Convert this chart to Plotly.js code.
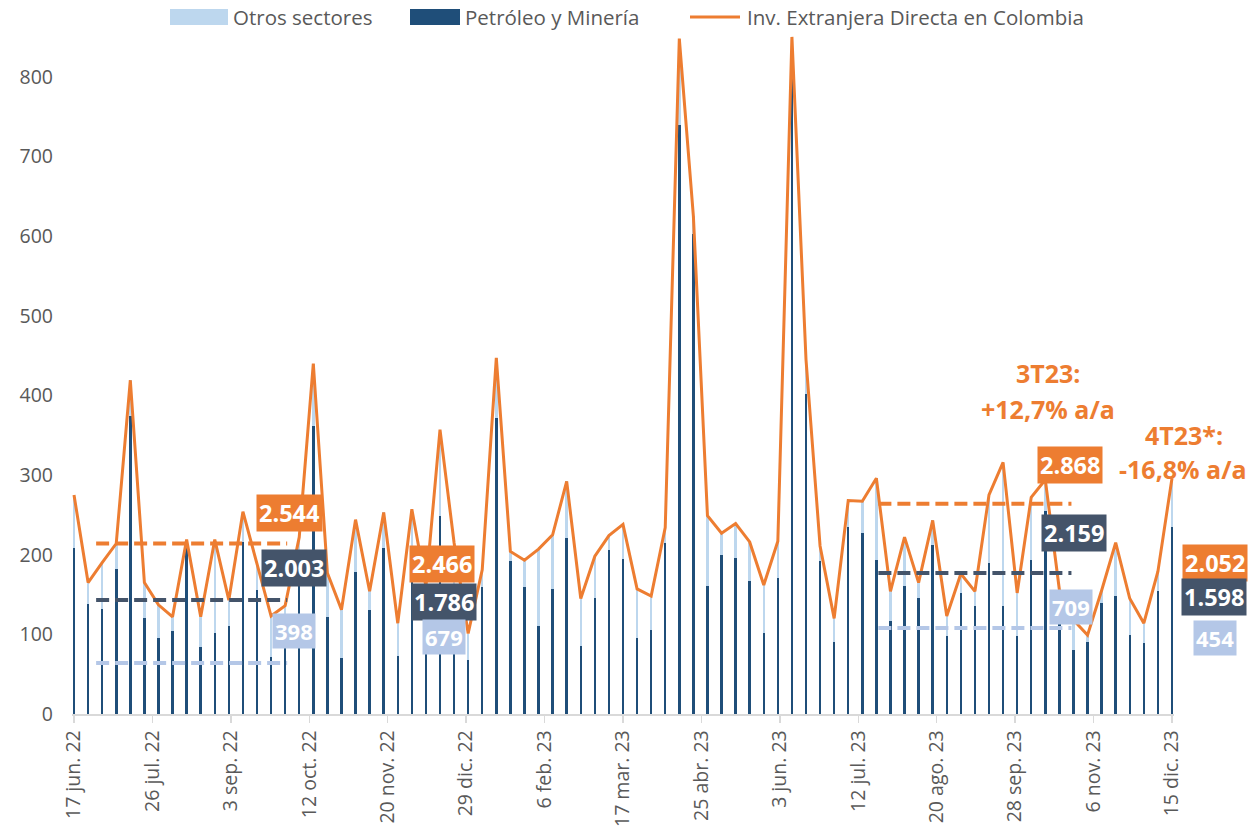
<!DOCTYPE html>
<html>
<head>
<meta charset="utf-8">
<script src="https://cdn.plot.ly/plotly-3.0.1.min.js"></script>
<style>html,body{margin:0;padding:0;background:#fff}#chart{width:1250px;height:836px}</style>
</head>
<body>
<div id="chart"></div>
<script>
// ---- Data ----
const startDate = '2022-06-17';   // first weekly observation
const nWeeks = 79;                 // weekly points up to 15 dic. 23

const petroleo = [209,138,132,182,374,121,95,104,213,84,102,111,216,156,72,110,195,361,122,70,
  178,131,209,73,180,100,249,120,68,159,371,192,159,110,157,221,85,146,206,195,
  95,106,215,740,602,161,200,196,167,102,171,804,402,192,91,235,227,193,117,161,
  146,212,98,152,136,189,135,98,193,255,125,80,91,139,148,99,89,154,235];
const otros = [66,27,58,32,45,44,42,18,6,38,117,32,38,31,51,26,27,79,55,61,
  66,23,44,41,77,60,108,95,33,22,76,12,34,97,68,71,60,52,18,43,
  62,42,19,108,23,88,27,43,49,60,46,46,43,19,29,33,40,103,37,61,
  19,31,25,24,18,86,181,54,79,39,31,38,8,16,67,46,25,25,61];
const total = [275,165,190,214,419,165,137,122,219,122,219,143,254,187,123,136,222,440,177,131,
  244,154,253,114,257,160,357,215,101,181,447,204,193,207,225,292,145,198,224,238,
  157,148,234,848,625,249,227,239,216,162,217,850,445,211,120,268,267,296,154,222,
  165,243,123,176,154,275,316,152,272,294,156,118,99,155,215,145,114,179,296];

const tickDates = ['2022-06-17','2022-07-26','2022-09-03','2022-10-12','2022-11-20','2022-12-29',
  '2023-02-06','2023-03-17','2023-04-25','2023-06-03','2023-07-12','2023-08-20','2023-09-28',
  '2023-11-06','2023-12-15'];
const tickLabels = ['17 jun. 22','26 jul. 22','3 sep. 22','12 oct. 22','20 nov. 22','29 dic. 22',
  '6 feb. 23','17 mar. 23','25 abr. 23','3 jun. 23','12 jul. 23','20 ago. 23','28 sep. 23',
  '6 nov. 23','15 dic. 23'];
const yTicks = [0,100,200,300,400,500,600,700,800];

// quarterly average (dashed) lines
const avgStart = ['2022-06-28','2023-07-22'];
const avgEnd   = ['2022-10-01','2023-10-26'];
const avgTotal = [214, 264];
const avgPet   = [143, 177];
const avgOtros = [64, 108];

// quarter label boxes: [total, petróleo, otros]
const qTotalText = ['2.544','2.466','2.868','2.052'];
const qPetText   = ['2.003','1.786','2.159','1.598'];
const qOtrosText = ['398','679','709','454'];

const seriesNames = ['Otros sectores','Petróleo y Minería','Inv. Extranjera Directa en Colombia'];
const noteLines = ['3T23:','+12,7% a/a','4T23*:','-16,8% a/a'];

// ---- Build ----
const DAY = 86400000;
const dates = [];
{
  const t0 = Date.parse(startDate + 'T00:00:00Z');
  for (let i = 0; i < nWeeks; i++) dates.push(new Date(t0 + i*7*DAY).toISOString().slice(0,10));
}
const ORANGE = '#ED7D31', DARK = '#1F4E79', LIGHT = '#BDD7EE';
const DARKLBL = '#44546A', LIGHTLBL = '#B4C7E7';
const FONT = 'Open Sans, Noto Sans, sans-serif';
const GREY = '#595959';

const traces = [
  {type:'bar', x:dates, y:petroleo, name:seriesNames[1], marker:{color:DARK}, width:1.25*DAY, showlegend:false, hoverinfo:'skip'},
  {type:'bar', x:dates, y:otros, name:seriesNames[0], marker:{color:LIGHT}, width:1.25*DAY, showlegend:false, hoverinfo:'skip'},
  {type:'scatter', mode:'lines', x:dates, y:total, name:seriesNames[2], line:{color:ORANGE, width:3}, showlegend:false, hoverinfo:'skip'}
];

// plot area in pixels
const L = 72, R = 1174, T = 21, B = 714;
const px = x => (x - L) / (R - L);
const py = y => (B - y) / (B - T);

const shapes = [];
const dashCfg = [[avgTotal, ORANGE], [avgPet, DARKLBL], [avgOtros, LIGHTLBL]];
for (let q = 0; q < avgStart.length; q++) {
  dashCfg.forEach(([arr, col]) => {
    shapes.push({type:'line', xref:'x', yref:'y', x0:avgStart[q], x1:avgEnd[q], y0:arr[q], y1:arr[q],
      line:{color:col, width:4, dash:'13px,6px'}});
  });
}
// custom legend
shapes.push({type:'rect', xref:'paper', yref:'paper', x0:px(170), x1:px(228), y0:py(25), y1:py(9), fillcolor:LIGHT, line:{width:0}});
shapes.push({type:'rect', xref:'paper', yref:'paper', x0:px(410), x1:px(460), y0:py(25), y1:py(9), fillcolor:DARK, line:{width:0}});
shapes.push({type:'line', xref:'paper', yref:'paper', x0:px(690), x1:px(740), y0:py(17), y1:py(17), line:{color:ORANGE, width:3}});

const annotations = [];
const legTxt = [[231, seriesNames[0]], [463, seriesNames[1]], [745, seriesNames[2]]];
legTxt.forEach(([x, t]) => annotations.push({xref:'paper', yref:'paper', x:px(x), y:py(17), text:t, showarrow:false,
  xanchor:'left', yanchor:'middle', font:{family:FONT, size:20.5, color:GREY}}));

// label boxes (pixel centres)
const boxPos = [
  [[289,513],[294,568],[294,631]],
  [[442,564],[444,602],[444,637]],
  [[1070,465],[1074,533],[1071,607]],
  [[1215,563],[1214,597],[1215,638]]
];
for (let q = 0; q < 4; q++) {
  const texts = [qTotalText[q], qPetText[q], qOtrosText[q]];
  const cols = [ORANGE, DARKLBL, LIGHTLBL];
  for (let k = 0; k < 3; k++) {
    annotations.push({xref:'paper', yref:'paper', x:px(boxPos[q][k][0]), y:py(boxPos[q][k][1]),
      text:'<b>'+texts[k]+'</b>', showarrow:false, xanchor:'center', yanchor:'middle',
      bgcolor:cols[k], borderpad:2, font:{family:FONT, size:k === 2 ? 22 : 23.5, color:'#ffffff'}});
  }
}
const notePos = [[1048,373],[1048,409],[1184,435],[1183,469]];
noteLines.forEach((t, i) => annotations.push({xref:'paper', yref:'paper', x:px(notePos[i][0]), y:py(notePos[i][1]),
  text:'<b>'+t+'</b>', showarrow:false, xanchor:'center', yanchor:'middle', font:{family:FONT, size:25, color:ORANGE}}));

const t0 = Date.parse(dates[0]+'T00:00:00Z') - DAY;
const t1 = Date.parse(dates[dates.length-1]+'T00:00:00Z') + DAY;

const layout = {
  width:1250, height:836,
  margin:{l:L, r:1250-R, t:T, b:836-B, pad:0},
  paper_bgcolor:'#ffffff', plot_bgcolor:'#ffffff',
  barmode:'stack', bargap:0,
  showlegend:false,
  font:{family:FONT, color:GREY},
  xaxis:{type:'date', range:[new Date(t0).toISOString(), new Date(t1).toISOString()],
    tickvals:tickDates, ticktext:tickLabels, tickangle:-90,
    tickfont:{family:FONT, size:19.5, color:GREY},
    showline:true, linecolor:'#D9D9D9', linewidth:1.5, ticks:'outside', ticklen:7, tickcolor:'#D9D9D9', tickwidth:1.5,
    showgrid:false, zeroline:false, fixedrange:true},
  yaxis:{range:[0,870], tickvals:yTicks, ticktext:yTicks.map(String),
    tickfont:{family:FONT, size:19.5, color:GREY}, showgrid:false, zeroline:false, showline:false, ticks:'',
    ticklabelstandoff:18, fixedrange:true},
  shapes:shapes,
  annotations:annotations
};
Plotly.newPlot('chart', traces, layout, {staticPlot:true, displayModeBar:false});
</script>
</body>
</html>
